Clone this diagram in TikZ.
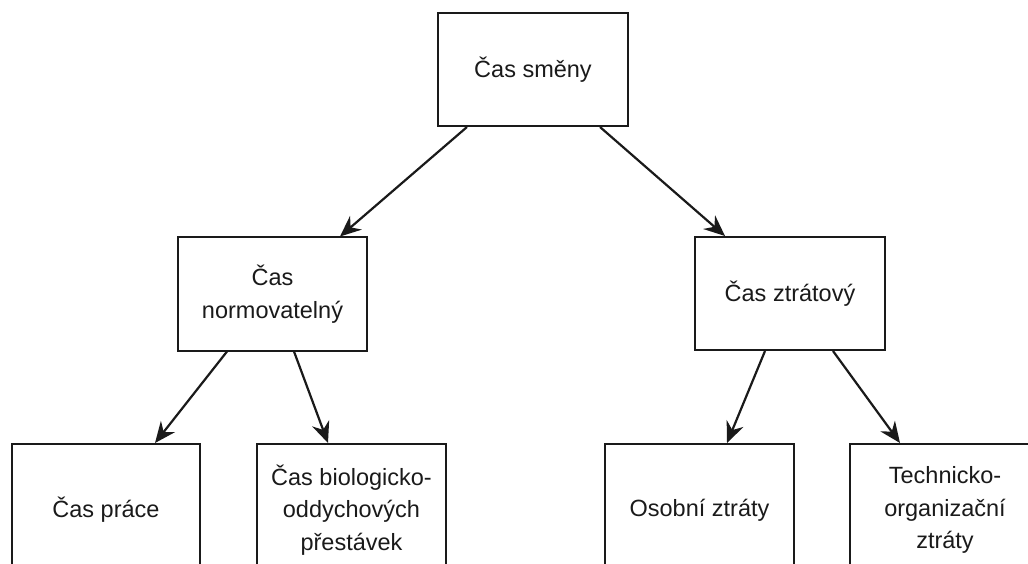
\documentclass[tikz,border=0pt]{standalone}
\usepackage{fontspec}
\setmainfont{Liberation Sans}
\usetikzlibrary{arrows.meta}
\definecolor{ink}{HTML}{1A1A1A}
\begin{document}
\begin{tikzpicture}[x=1pt,y=-1pt,
  box/.style={draw=ink,line width=2pt,fill=white,minimum height=113pt,align=center,
    text=ink,font=\fontsize{23.5}{32.5}\selectfont,inner sep=2pt},
  lowbox/.style={box,minimum height=132pt},
  arr/.style={draw=ink,line width=2.2pt,-{Stealth[length=21pt,width=18pt,inset=7pt]}}]
\useasboundingbox (0,0) rectangle (1028,564);
\clip (0,0) rectangle (1028,564);
\fill[white] (0,0) rectangle (1028,564);
\node[box,minimum width=190pt] (top) at (533,69.5) {Čas směny};
\node[box,minimum width=189pt] (ml) at (272.5,294) {Čas\\normovatelný};
\node[box,minimum width=190pt] (mr) at (790,293.5) {Čas ztrátový};
\node[lowbox,minimum width=188pt] (b1) at (106,510) {Čas práce};
\node[lowbox,minimum width=189pt] (b2) at (351.5,510) {Čas biologicko-\\oddychových\\přestávek};
\node[lowbox,minimum width=189pt] (b3) at (699.5,510) {Osobní ztráty};
\node[lowbox,minimum width=190pt] (b4) at (945,510) {Technicko-\\organizační\\ztráty};
\draw[arr] ([xshift=-66pt]top.south) -- ([xshift=67.5pt]ml.north);
\draw[arr] ([xshift=67pt]top.south) -- ([xshift=-65pt]mr.north);
\draw[arr] ([xshift=-45.5pt]ml.south) -- ([xshift=49pt]b1.north);
\draw[arr] ([xshift=21.5pt]ml.south) -- ([xshift=-23.5pt]b2.north);
\draw[arr] ([xshift=-25pt]mr.south) -- ([xshift=27.5pt]b3.north);
\draw[arr] ([xshift=43pt]mr.south) -- ([xshift=-45pt]b4.north);
\end{tikzpicture}
\end{document}
